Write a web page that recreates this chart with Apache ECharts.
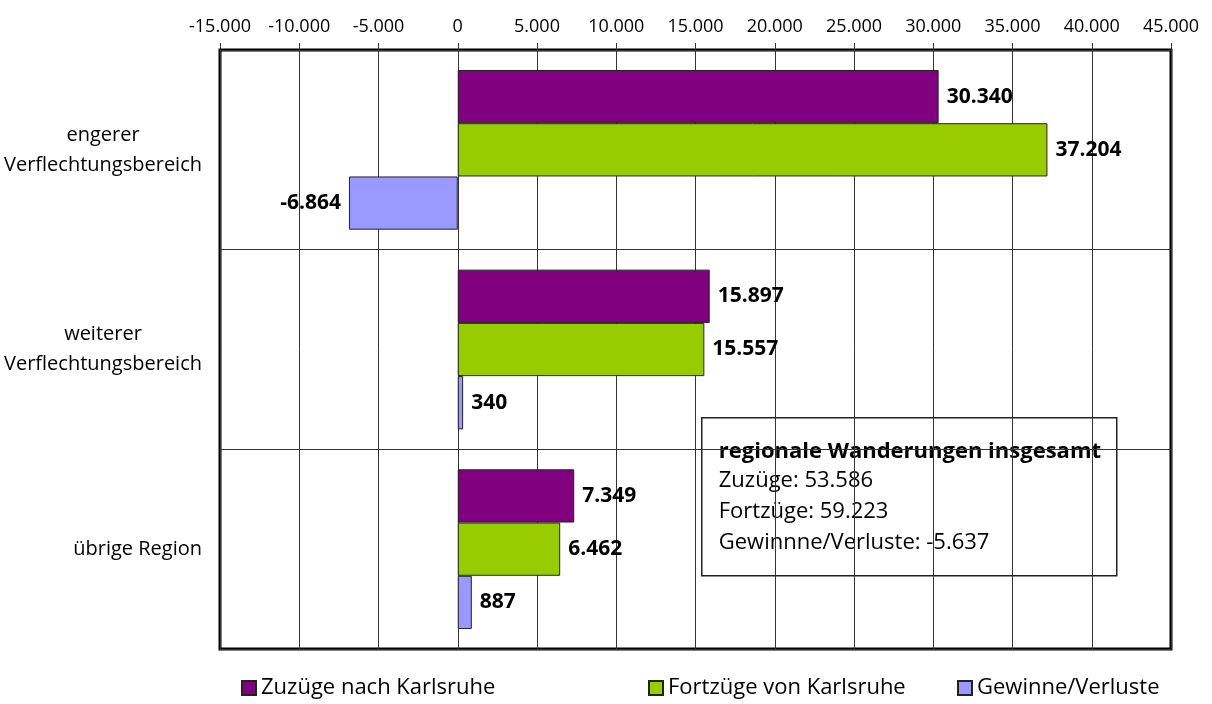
<!DOCTYPE html>
<html>
<head>
<meta charset="utf-8">
<script src="https://cdn.jsdelivr.net/npm/echarts@6/dist/echarts.min.js"></script>
<style>
  html, body { margin: 0; padding: 0; background: #fff; }
  #main { width: 1212px; height: 704px; }
</style>
</head>
<body>
<div id="main"></div>
<script>
// categories top to bottom
const regions = ['engerer\nVerflechtungsbereich', 'weiterer\nVerflechtungsbereich', 'übrige Region'];
const seriesNames = ['Zuzüge nach Karlsruhe', 'Fortzüge von Karlsruhe', 'Gewinne/Verluste'];
const zuzuege = [30340, 15897, 7349];
const fortzuege = [37204, 15557, 6462];
const saldo = [-6864, 340, 887];
const colors = ['#800080', '#99CC00', '#9999FF'];
const boxTitle = 'regionale Wanderungen insgesamt';
const boxLines = ['Zuzüge: 53.586', 'Fortzüge: 59.223', 'Gewinnne/Verluste: -5.637'];

const FONT = '"Open Sans", "Noto Sans", sans-serif';

function fmt(v) {
  const s = String(Math.abs(v)).replace(/\B(?=(\d{3})+(?!\d))/g, '.');
  return (v < 0 ? '-' : '') + s;
}

function items(arr) {
  return arr.map(v => ({ value: v, label: { position: v < 0 ? 'left' : 'right' } }));
}

const chartDom = document.getElementById('main');
const myChart = echarts.init(chartDom);

const seriesData = [zuzuege, fortzuege, saldo];

const option = {
  animation: false,
  textStyle: { fontFamily: FONT },
  grid: {
    left: 220, right: 41, top: 50, bottom: 55,
    show: true, borderColor: '#000', borderWidth: 3, backgroundColor: '#fff'
  },
  legend: seriesNames.map((n, i) => ({
    data: [n],
    left: [241, 648, 957][i],
    top: 677,
    padding: 0,
    icon: 'rect',
    itemWidth: 14,
    itemHeight: 14,
    textStyle: { fontSize: 22, color: '#000', fontFamily: FONT }
  })),
  xAxis: {
    type: 'value',
    position: 'top',
    min: -15000, max: 45000, interval: 5000,
    axisLine: { show: false },
    axisTick: { show: true, length: 7, lineStyle: { color: '#333' } },
    axisLabel: { color: '#000', fontSize: 18, margin: 14, formatter: v => fmt(v) },
    splitLine: { show: true, lineStyle: { color: '#333', width: 1 } }
  },
  yAxis: {
    type: 'category',
    inverse: true,
    data: regions,
    axisLine: { show: false },
    axisTick: { show: false },
    axisLabel: {
      color: '#000', fontSize: 20, margin: 18, align: 'right',
      formatter: v => v.split('\n').map(s => '{c|' + s + '}').join('\n'),
      rich: { c: { align: 'center', fontSize: 20, lineHeight: 30, color: '#000', fontFamily: FONT } }
    },
    splitLine: { show: true, lineStyle: { color: '#333', width: 1 } }
  },
  series: seriesNames.map((n, i) => ({
    name: n,
    type: 'bar',
    data: items(seriesData[i]),
    barGap: '0%',
    barCategoryGap: '20%',
    itemStyle: { color: colors[i], borderColor: '#222', borderWidth: 1 },
    label: {
      show: true,
      distance: 8,
      color: '#000',
      fontWeight: 'bold',
      fontSize: 21,
      fontFamily: FONT,
      formatter: p => fmt(p.value)
    }
  })),
  graphic: [{
    type: 'group',
    left: 701,
    top: 417,
    children: [
      { type: 'rect', shape: { x: 0, y: 0, width: 415, height: 158 },
        style: { fill: '#fff', stroke: '#222', lineWidth: 1.5 } },
      { type: 'text', x: 17, y: 34,
        style: { text: boxTitle, font: 'bold 22px ' + FONT, fill: '#000', textVerticalAlign: 'middle' } },
      ...boxLines.map((t, k) => ({
        type: 'text', x: 17, y: 63 + k * 31,
        style: { text: t, font: '22px ' + FONT, fill: '#000', textVerticalAlign: 'middle' }
      }))
    ]
  }]
};

option && myChart.setOption(option);
</script>
</body>
</html>
